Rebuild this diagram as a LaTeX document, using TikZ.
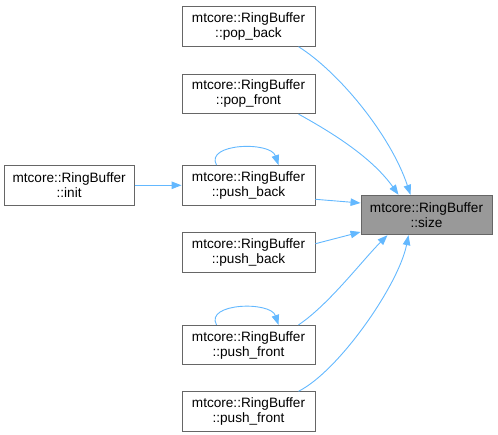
\documentclass[tikz,border=0pt]{standalone}
\usepackage{fontspec}
\setmainfont{Liberation Sans}
\usetikzlibrary{arrows.meta, positioning}
\definecolor{edgeblue}{RGB}{99, 184, 255}
\definecolor{boxline}{RGB}{102, 102, 102}
\definecolor{hlfill}{RGB}{153, 153, 153}
\tikzset{
  fnbox/.style={
    rectangle, draw=boxline, fill=white, line width=0.9pt,
    minimum width=133pt, minimum height=39.5pt, inner sep=2pt,
    align=center, font=\fontsize{13.6}{15}\selectfont
  },
  hlbox/.style={fnbox, fill=hlfill, minimum width=131pt},
  edge/.style={-{Triangle[length=10pt, width=7.5pt]}, line width=0.9pt, color=edgeblue},
}
\begin{document}
\begin{tikzpicture}[x=1pt, y=-1pt, node distance=27pt]
        \useasboundingbox (0,0) rectangle (498,435);
        \node[fnbox] at (248.5,26.5) (popb) {mtcore::RingBuffer\\::pop\_back};
        \node[fnbox, below=of popb] (popf) {mtcore::RingBuffer\\::pop\_front};
        \node[fnbox, below=51pt of popf] (pushb) {mtcore::RingBuffer\\::push\_back};
        \node[fnbox, below=of pushb] (pushbb) {mtcore::RingBuffer\\::push\_back};
        \node[fnbox, below=52pt of pushbb] (pushf) {mtcore::RingBuffer\\::push\_front};
        \node[fnbox, below=26pt of pushf] (pushff) {mtcore::RingBuffer\\::push\_front};
        \node[fnbox, minimum width=130pt, left=47pt of pushb] (init) {mtcore::RingBuffer\\::init};
        \node[hlbox] at (426.5,215) (size) {mtcore::RingBuffer\\::size};
        % callers of size
        \draw[edge] ([xshift=50]popb.south) .. controls +(40,25) and +(-20,-60) .. ([xshift=-16]size.north);
        \draw[edge] ([xshift=50]popf.south) .. controls +(40,22) and +(-25,-35) .. ([xshift=-28]size.north);
        \draw[edge] ([yshift=-14]pushb.east) -- ([yshift=12]size.west);
        \draw[edge] ([yshift=9]pushbb.east) -- ([yshift=-17]size.west);
        \draw[edge] ([xshift=50]pushf.north) .. controls +(30,-20) and +(-25,25) .. ([xshift=-39]size.south);
        \draw[edge] ([xshift=50]pushff.north) .. controls +(40,-20) and +(-10,50) .. ([xshift=-18]size.south);
        % init and recursion
        \draw[edge] (init) -- (pushb);
        \draw[edge] ([xshift=-32]pushb.north) .. controls +(-12,-22) and +(-8,-24) .. ([xshift=30]pushb.north);
        \draw[edge] ([xshift=-32]pushf.north) .. controls +(-12,-22) and +(-8,-24) .. ([xshift=30]pushf.north);
      \end{tikzpicture}
\end{document}
